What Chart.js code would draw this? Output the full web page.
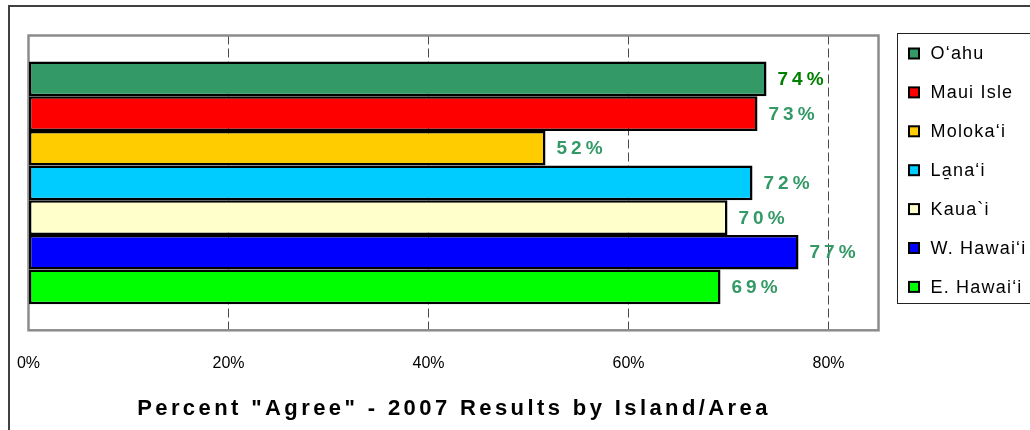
<!DOCTYPE html>
<html><head><meta charset="utf-8">
<script src="https://cdn.jsdelivr.net/npm/chart.js@4"></script>
<style>html,body{margin:0;padding:0;background:#fff;}#wrap{width:1030px;height:430px;position:relative}</style>
</head><body><div id="wrap"><canvas id="c" width="1030" height="430"></canvas></div>
<script>
const categories = ['2007'];
const seriesNames = ['O‘ahu', 'Maui Isle', 'Moloka‘i', 'La̱na‘i', 'Kaua`i', 'W. Hawai‘i', 'E. Hawai‘i'];
const agreePct = [73.8, 72.9, 51.7, 72.4, 69.9, 77.0, 69.2];
const xTickValues = [0, 20, 40, 60, 80];
const chartTitle = 'Percent "Agree" - 2007 Results by Island/Area';

const barColors = ['#339966', '#FF0000', '#FFCC00', '#00CCFF', '#FFFFCC', '#0000FF', '#00FF00'];
const labelColors = ['#008000', '#339966', '#339966', '#339966', '#339966', '#339966', '#339966'];
const FONT = '"Liberation Sans", Arial, sans-serif';

const decor = {
  id: 'decor',
  beforeDraw(chart) {
    const ctx = chart.ctx;
    ctx.save();
    ctx.fillStyle = '#fff';
    ctx.fillRect(0, 0, chart.width, chart.height);
    ctx.strokeStyle = '#404040';
    ctx.lineWidth = 2;
    ctx.strokeRect(9, 6, 1040, 440);
    ctx.restore();
  },
  beforeDatasetsDraw(chart) {
    const ctx = chart.ctx, a = chart.chartArea;
    ctx.save();
    ctx.strokeStyle = '#8c8c8c';
    ctx.lineWidth = 2.5;
    ctx.strokeRect(a.left, a.top, a.right - a.left, a.bottom - a.top);
    ctx.restore();
  },
  afterDatasetsDraw(chart) {
    const ctx = chart.ctx;
    ctx.save();
    ctx.font = 'bold 19px ' + FONT;
    ctx.letterSpacing = '4px';
    ctx.textAlign = 'left';
    ctx.textBaseline = 'middle';
    chart.data.datasets.forEach((ds, i) => {
      const bar = chart.getDatasetMeta(i).data[0];
      ctx.fillStyle = labelColors[i];
      ctx.fillText(Math.round(ds.data[0]) + '%', bar.x + 11, bar.y + 1);
    });
    ctx.restore();
  },
  afterDraw(chart) {
    const ctx = chart.ctx;
    ctx.save();
    // legend
    ctx.strokeStyle = '#222';
    ctx.lineWidth = 1;
    ctx.strokeRect(897.5, 33.5, 140, 270);
    ctx.font = '18px ' + FONT;
    ctx.letterSpacing = '1.2px';
    ctx.textAlign = 'left';
    ctx.textBaseline = 'middle';
    chart.data.datasets.forEach((ds, i) => {
      const cy = 53.5 + i * 38.9;
      ctx.fillStyle = ds.backgroundColor;
      ctx.fillRect(909, cy - 5, 10, 10);
      ctx.lineWidth = 2;
      ctx.strokeStyle = '#000';
      ctx.strokeRect(909, cy - 5, 10, 10);
      ctx.fillStyle = '#000';
      ctx.fillText(ds.label, 930.5, cy + 1);
    });
    // title
    ctx.font = 'bold 22px ' + FONT;
    ctx.letterSpacing = '3.4px';
    ctx.textAlign = 'center';
    ctx.fillStyle = '#000';
    ctx.fillText(chartTitle, 454, 409);
    ctx.restore();
  }
};

new Chart(document.getElementById('c'), {
  type: 'bar',
  data: {
    labels: categories,
    datasets: seriesNames.map((name, i) => ({
      label: name,
      data: [agreePct[i]],
      backgroundColor: barColors[i],
      borderColor: '#000',
      borderWidth: 2.5,
      borderSkipped: false,
      categoryPercentage: 0.823,
      barPercentage: 1
    }))
  },
  options: {
    indexAxis: 'y',
    responsive: false,
    animation: false,
    devicePixelRatio: 1,
    layout: { padding: { left: 28.5, right: 151.5, top: 35.5, bottom: 33.5 } },
    plugins: { legend: { display: false }, title: { display: false }, tooltip: { enabled: false } },
    scales: {
      x: {
        min: 0, max: 85,
        afterBuildTicks: axis => { axis.ticks = xTickValues.map(v => ({ value: v })); },
        afterFit: axis => { axis.paddingLeft = 0; axis.paddingRight = 0; },
        ticks: {
          stepSize: 20, autoSkip: false, maxRotation: 0, padding: 23.5,
          color: '#000', font: { family: FONT, size: 16 },
          callback: v => v + '%'
        },
        grid: {
          drawTicks: false, lineWidth: 1,
          color: c => (c.tick && c.tick.value === 0) ? 'rgba(0,0,0,0)' : '#4a4a4a'
        },
        border: { display: false, dash: [9, 4] }
      },
      y: { display: false }
    }
  },
  plugins: [decor]
});
</script></body></html>
